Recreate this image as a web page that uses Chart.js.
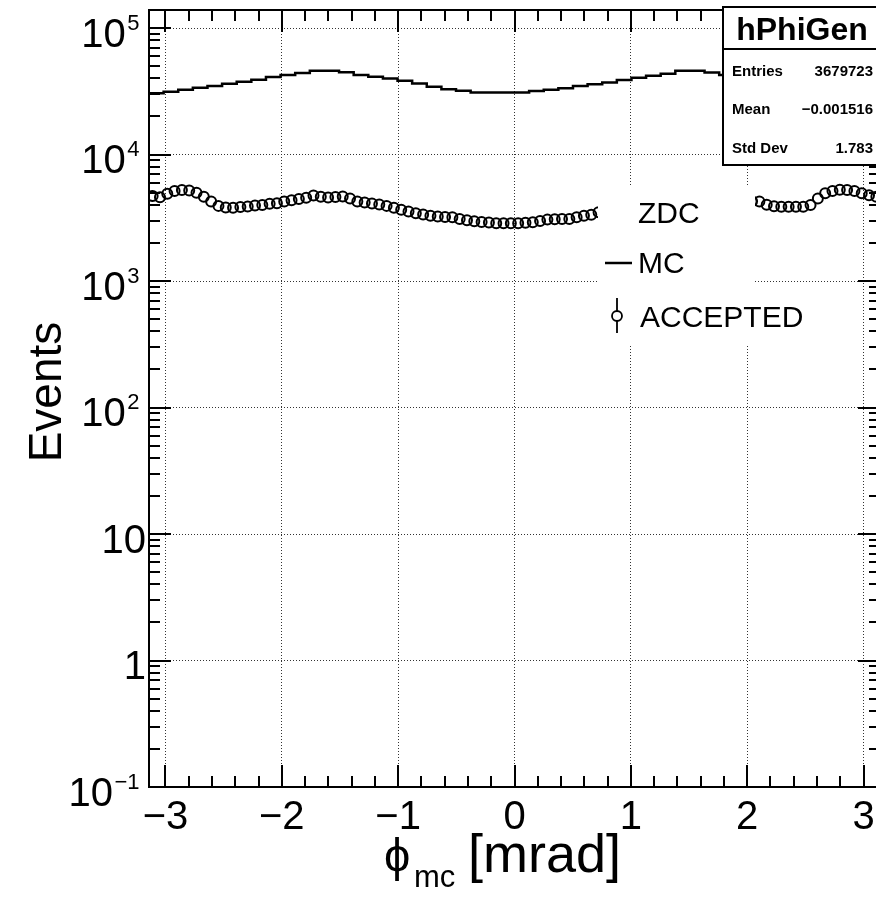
<!DOCTYPE html>
<html><head><meta charset="utf-8">
<script src="https://cdn.jsdelivr.net/npm/chart.js@4/dist/chart.umd.min.js"></script>
<style>
html,body{margin:0;padding:0;overflow:hidden;background:#fff;width:876px;height:917px}
#wrap{position:absolute;left:0;top:0;width:900px;height:917px}
</style>
</head><body><div id="wrap"><canvas id="c" width="900" height="917"></canvas></div>
<script>
// ---------------- data ----------------
const X_MIN = -Math.PI, X_MAX = Math.PI;
const mcValues = [30400, 30600, 31350, 32500, 33700, 34800, 36300, 37600, 39000, 41000,
  42500, 44100, 45900, 46000, 44700, 42500, 41200, 40000, 38300, 36500,
  34300, 32900, 31900, 31000, 31000, 31000, 31000, 31750, 32500, 33500,
  34800, 35900, 37200, 38800, 40500, 42000, 43500, 45900, 46000, 44650,
  42500, 41000, 39500, 38000, 36400, 34900, 33600, 32400, 31400, 30600];
const acceptedValues = [4700, 4600, 4900, 5150, 5250, 5200, 5000, 4650, 4260, 3930,
  3820, 3800, 3850, 3880, 3950, 4000, 4080, 4130, 4250, 4350,
  4450, 4550, 4750, 4650, 4580, 4620, 4670, 4500, 4260, 4180,
  4100, 4030, 3930, 3800, 3670, 3550, 3440, 3360, 3290, 3240,
  3210, 3190, 3100, 3020, 2970, 2930, 2900, 2870, 2870, 2860,
  2870, 2890, 2920, 2990, 3060, 3080, 3100, 3090, 3200, 3280,
  3350, 3500, 3560, 3620, 3700, 3780, 3860, 3950, 4050, 4150,
  4220, 4300, 4380, 4450, 4520, 4600, 4620, 4580, 4500, 4420,
  4360, 4300, 4280, 4260, 4010, 3900, 3860, 3860, 3860, 3860,
  4000, 4500, 4950, 5150, 5280, 5250, 5150, 4950, 4760, 4650];
const xTickValues = [-3, -2, -1, 0, 1, 2, 3];
const xTickLabels = ['\u22123', '\u22122', '\u22121', '0', '1', '2', '3'];
const yTickValues = [0.1, 1, 10, 100, 1000, 10000, 100000];
const yTickBase = ['10', '1', '10', '10', '10', '10', '10'];
const yTickExp = ['\u22121', '', '', '2', '3', '4', '5'];
const Y_MAX = 1.39e5;
const legendHeader = 'ZDC';
const legendLabels = ['MC', 'ACCEPTED'];
const statsTitle = 'hPhiGen';
const statsNames = ['Entries', 'Mean', 'Std Dev'];
const statsValues = ['3679723', '\u22120.001516', '1.783'];
const xTitleMain = '\u03D5', xTitleSub = 'mc', xTitleRest = '[mrad]';
const yTitle = 'Events';

// ---------------- build points ----------------
const mcW = (X_MAX - X_MIN) / mcValues.length;
const mcPoints = mcValues.map((v, i) => ({x: X_MIN + i * mcW, y: v}));
mcPoints.push({x: X_MAX, y: mcValues[mcValues.length - 1]});
const accW = (X_MAX - X_MIN) / acceptedValues.length;
const accPoints = acceptedValues.map((v, i) => ({x: X_MIN + (i + 0.5) * accW, y: v}));

const FONT = '"Liberation Sans", Arial, Helvetica, sans-serif';

const rootPlugin = {
  id: 'rootStyle',
  afterDraw(chart) {
    const ctx = chart.ctx, a = chart.chartArea, xs = chart.scales.x, ys = chart.scales.y;
    ctx.save();

    // frame
    ctx.strokeStyle = '#000'; ctx.lineWidth = 2;
    ctx.strokeRect(a.left, a.top, a.right - a.left, a.bottom - a.top);

    // x ticks (bottom and top, inside)
    ctx.lineWidth = 2;
    ctx.beginPath();
    for (let k = -15; k <= 15; k++) {
      const v = k / 5;
      if (v < X_MIN || v > X_MAX) continue;
      const px = Math.round(xs.getPixelForValue(v));
      const len = (k % 5 === 0) ? 22 : 11;
      ctx.moveTo(px, a.bottom); ctx.lineTo(px, a.bottom - len);
      ctx.moveTo(px, a.top); ctx.lineTo(px, a.top + len);
    }
    // y ticks (left and right, inside)
    for (let e = -1; e <= 5; e++) {
      for (let m = 1; m <= 9; m++) {
        const v = m * Math.pow(10, e);
        if (v < 0.1 || v > Y_MAX) continue;
        const py = Math.round(ys.getPixelForValue(v));
        const len = (m === 1) ? 22 : 11;
        ctx.moveTo(a.left, py); ctx.lineTo(a.left + len, py);
        ctx.moveTo(a.right, py); ctx.lineTo(a.right - len, py);
      }
    }
    ctx.stroke();

    // legend (white box, no border)
    ctx.fillStyle = '#fff';
    ctx.fillRect(598, 187, 157, 158);
    ctx.fillStyle = '#000';
    ctx.font = '30px ' + FONT;
    ctx.textAlign = 'left'; ctx.textBaseline = 'alphabetic';
    ctx.fillText(legendHeader, 638, 223);
    ctx.fillText(legendLabels[0], 638, 273);
    ctx.fillText(legendLabels[1], 640, 327);
    ctx.strokeStyle = '#000'; ctx.lineWidth = 2.5;
    ctx.beginPath(); ctx.moveTo(605, 263); ctx.lineTo(632, 263); ctx.stroke();
    ctx.lineWidth = 1.8;
    ctx.beginPath(); ctx.arc(617, 316, 5, 0, Math.PI * 2); ctx.stroke();
    ctx.beginPath(); ctx.moveTo(617, 298); ctx.lineTo(617, 311); ctx.moveTo(617, 321); ctx.lineTo(617, 333); ctx.stroke();

    // stats box
    ctx.fillStyle = '#fff';
    ctx.fillRect(723, 7, 200, 158);
    ctx.strokeStyle = '#000'; ctx.lineWidth = 2;
    ctx.strokeRect(723, 7, 200, 158);
    ctx.beginPath(); ctx.moveTo(723, 49); ctx.lineTo(923, 49); ctx.stroke();
    ctx.fillStyle = '#000';
    ctx.font = 'bold 32px ' + FONT;
    ctx.textAlign = 'center';
    ctx.fillText(statsTitle, 802, 40);
    ctx.font = 'bold 15px ' + FONT;
    const rowsY = [76, 113.5, 152.5];
    statsNames.forEach((n, i) => {
      ctx.textAlign = 'left'; ctx.fillText(n, 732, rowsY[i]);
      ctx.textAlign = 'right'; ctx.fillText(statsValues[i], 873, rowsY[i]);
    });

    // x tick labels
    ctx.fillStyle = '#000';
    ctx.font = '40px ' + FONT;
    ctx.textAlign = 'center'; ctx.textBaseline = 'alphabetic';
    xTickValues.forEach((v, i) => {
      ctx.fillText(xTickLabels[i], xs.getPixelForValue(v), a.bottom + 42);
    });
    // y tick labels
    yTickValues.forEach((v, i) => {
      const py = ys.getPixelForValue(v);
      const base = yTickBase[i], exp = yTickExp[i];
      const by = py + 18.5;
      if (exp) {
        ctx.font = '22px ' + FONT;
        ctx.textAlign = 'right';
        const ew = ctx.measureText(exp).width;
        ctx.fillText(exp, 139.5, by - 17);
        ctx.font = '40px ' + FONT;
        ctx.fillText(base, 139.5 - ew - 1.5, by);
      } else {
        ctx.font = '40px ' + FONT;
        ctx.textAlign = 'right';
        ctx.fillText(base, 146, by);
      }
    });

    // axis titles
    ctx.font = '46px ' + FONT;
    ctx.textAlign = 'center';
    ctx.save();
    ctx.translate(61, 392);
    ctx.rotate(-Math.PI / 2);
    ctx.fillText(yTitle, 0, 0);
    ctx.restore();

    ctx.textAlign = 'left';
    ctx.font = '47px ' + FONT;
    ctx.fillText(xTitleMain, 384, 871);
    ctx.font = '31px ' + FONT;
    ctx.fillText(xTitleSub, 414, 887);
    ctx.font = '54px ' + FONT;
    ctx.fillText(xTitleRest, 468, 872);
    ctx.restore();
  }
};

new Chart(document.getElementById('c').getContext('2d'), {
  type: 'scatter',
  data: {
    datasets: [
      {label: legendLabels[0], type: 'line', data: mcPoints, stepped: 'after',
       borderColor: '#000', borderWidth: 2.5, pointRadius: 0, fill: false, order: 1},
      {label: legendLabels[1], type: 'scatter', data: accPoints, pointStyle: 'circle',
       pointRadius: 5, borderWidth: 2, borderColor: '#000',
       backgroundColor: 'rgba(0,0,0,0)', order: 0}
    ]
  },
  options: {
    responsive: false, animation: false, devicePixelRatio: 1,
    layout: {padding: {left: 0, right: 20, top: 10, bottom: 0}},
    plugins: {legend: {display: false}, tooltip: {enabled: false}},
    scales: {
      x: {type: 'linear', min: X_MIN, max: X_MAX,
          afterBuildTicks: s => { s.ticks = xTickValues.map(v => ({value: v})); },
          afterFit: s => { s.height = 130; },
          ticks: {display: false},
          grid: {color: '#333', lineWidth: 1, drawTicks: false},
          border: {display: false, dash: [1, 2]}},
      y: {type: 'logarithmic', min: 0.1, max: Y_MAX,
          afterBuildTicks: s => { s.ticks = yTickValues.map(v => ({value: v})); },
          afterFit: s => { s.width = 149; },
          ticks: {display: false},
          grid: {color: '#333', lineWidth: 1, drawTicks: false},
          border: {display: false, dash: [1, 2]}}
    }
  },
  plugins: [rootPlugin]
});
</script>
</body></html>
